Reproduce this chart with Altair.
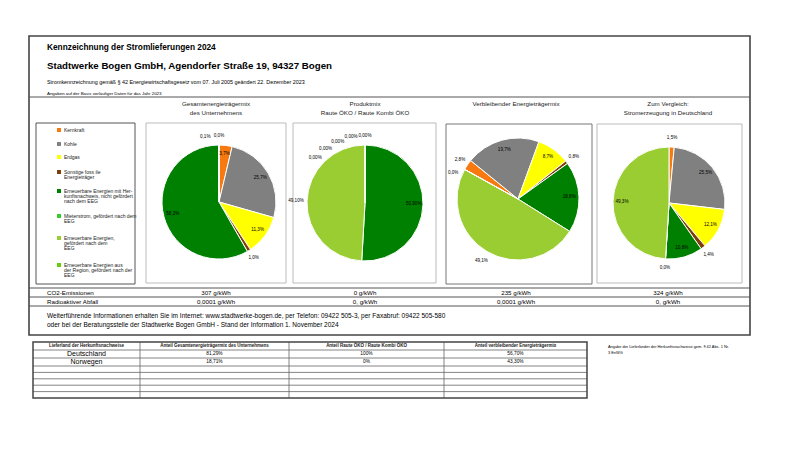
import math
import altair as alt
import pandas as pd

# ---------------- data ----------------
categories = [
    "Kernkraft", "Kohle", "Erdgas", "Sonstige fossile Energieträger",
    "Erneuerbare Energien mit Herkunftsnachweis, nicht gefördert nach dem EEG",
    "Mieterstrom, gefördert nach dem EEG",
    "Erneuerbare Energien, gefördert nach dem EEG",
    "Erneuerbare Energien aus der Region, gefördert nach der EEG",
]
legend_lines = [
    ["Kernkraft"], ["Kohle"], ["Erdgas"],
    ["Sonstige foss ile", "Energieträger"],
    ["Erneuerbare Energien mit Her-", "kunftsnachweis, nicht gefördert", "nach dem EEG"],
    ["Mieterstrom, gefördert nach dem", "EEG"],
    ["Erneuerbare Energien,", "gefördert nach dem", "EEG"],
    ["Erneuerbare Energien aus", "der Region, gefördert nach der", "EEG"],
]
colors = ["#F7790F", "#808080", "#FFFF00", "#7F3F0A", "#008000", "#33CC33", "#9ACD32", "#66CC11"]

pie_titles = [
    ["Gesamtenergieträgermix", "des Unternehmens"],
    ["Produktmix", "Raute ÖKO / Raute Kombi ÖKO"],
    ["Verbleibender Energieträgermix"],
    ["Zum Vergleich:", "Stromerzeugung in Deutschland"],
]
mix_gesamt = [3.7, 25.7, 11.3, 1.0, 58.2, None, 0.1, 0.0]
mix_produkt = [0.0, 0.0, 0.0, 0.0, 50.90, None, 49.10, 0.0]
mix_verbleibend = [2.8, 19.7, 8.7, 0.8, 18.8, None, 49.1, 0.0]
mix_deutschland = [1.5, 25.5, 12.1, 1.4, 10.8, 0.0, 49.3, None]
pie_decimals = [1, 2, 1, 1]

co2_label = "CO2-Emissionen"
co2_values = ["307 g/kWh", "0 g/kWh", "235 g/kWh", "324 g/kWh"]
waste_label = "Radioaktiver Abfall"
waste_values = ["0,0001 g/kWh", "0, g/kWh", "0,0001 g/kWh", "0, g/kWh"]

header_lines = [
    "Kennzeichnung der Stromlieferungen 2024",
    "Stadtwerke Bogen GmbH, Agendorfer Straße 19, 94327 Bogen",
    "Stromkennzeichnung gemäß § 42 Energiewirtschaftsgesetz vom 07. Juli 2005 geändert 22. Dezember 2023",
    "Angaben auf der Basis vorläufiger Daten für das Jahr 2023",
]
footer_lines = [
    "Weiterführende Informationen erhalten Sie im Internet: www.stadtwerke-bogen.de, per Telefon: 09422 505-3, per Faxabruf: 09422 505-580",
    "oder bei der Beratungsstelle der Stadtwerke Bogen GmbH - Stand der Information 1. November 2024",
]

table_headers = [
    "Lieferland der Herkunftsnachweise",
    "Anteil Gesamtenergieträgermix des Unternehmens",
    "Anteil Raute ÖKO / Raute Kombi ÖKO",
    "Anteil verbleibender Energieträgermix",
]
countries = ["Deutschland", "Norwegen"]
anteil_gesamt = ["81,29%", "18,71%"]
anteil_raute = ["100%", "0%"]
anteil_verbleibend = ["56,70%", "43,30%"]
side_note = ["Angabe der Lieferländer der Herkunftsnachweise gem. § 42 Abs. 1 Nr.", "3 EnWG"]

# ---------------- helpers ----------------
FONT = "Liberation Sans"
OFF = 8  # page margin


def text_layer(rows, size, weight="normal", align="left", color="#000000", font=FONT):
    df = pd.DataFrame([{"x": x - OFF, "y": y - OFF, "t": t} for x, y, t in rows])
    return alt.Chart(df).mark_text(
        fontSize=size, fontWeight=weight, align=align, baseline="middle", color=color, font=font
    ).encode(x=alt.X("x:Q", scale=None), y=alt.Y("y:Q", scale=None), text="t:N")


def rule_layer(rows, color, width):
    df = pd.DataFrame([{"x": a - OFF, "y": b - OFF, "x2": c - OFF, "y2": d - OFF} for a, b, c, d in rows])
    return alt.Chart(df).mark_rule(color=color, strokeWidth=width).encode(
        x=alt.X("x:Q", scale=None), y=alt.Y("y:Q", scale=None), x2="x2:Q", y2="y2:Q")


def rect_layer(rows, color, width):
    df = pd.DataFrame([{"x": a - OFF, "y": b - OFF, "x2": c - OFF, "y2": d - OFF} for a, b, c, d in rows])
    return alt.Chart(df).mark_rect(fill="transparent", stroke=color, strokeWidth=width).encode(
        x=alt.X("x:Q", scale=None), y=alt.Y("y:Q", scale=None), x2="x2:Q", y2="y2:Q")


color_scale = alt.Scale(domain=categories, range=colors)
EEG = categories[6]
outside_big = [set(), {EEG}, {EEG}, set()]  # slices whose label sits outside (best fit)


def fmt(v, d):
    return f"{v:.{d}f}".replace(".", ",") + "%"


def pie_layers(values, cx, cy, r, start, dec, out_set):
    total = sum(v for v in values if v is not None)
    rows = []
    cum = 0.0
    for i, (c, v) in enumerate(zip(categories, values)):
        if v is None:
            continue
        inside = v >= 3 and c not in out_set
        rows.append({"cat": c, "v": v, "o": i, "lab": fmt(v, dec), "pos": cum + v / 2,
                     "lr": r * 0.84 if inside else r + (9 if v < 3 else 11), "inside": inside})
        cum += v
    # spread small outside labels so they don't collide
    sep = total * 12 / 360
    outs = [q for q in rows if not q["inside"] and q["v"] < 3]
    for q in outs:
        if q["pos"] > total * 0.75:
            q["pos"] -= total
    outs.sort(key=lambda q: (q["pos"], q["o"]))
    for k in range(len(outs) - 2, -1, -1):
        if outs[k]["pos"] > outs[k + 1]["pos"] - sep:
            outs[k]["pos"] = outs[k + 1]["pos"] - sep
    df = pd.DataFrame(rows)
    rng = [start, start + 2 * math.pi]
    arc = alt.Chart(df).mark_arc(radius=r, stroke="white", strokeWidth=1).encode(
        theta=alt.Theta("v:Q", stack=True, scale=alt.Scale(range=rng)),
        color=alt.Color("cat:N", scale=color_scale, legend=None),
        order=alt.Order("o:Q"),
        x=alt.value(cx - OFF), y=alt.value(cy - OFF),
    )
    lab = alt.Chart(df).mark_text(fontSize=4.6, font=FONT, color="#000000").encode(
        theta=alt.Theta("pos:Q", stack=None, scale=alt.Scale(domain=[0, total], range=rng)),
        radius=alt.Radius("lr:Q", scale=None),
        text="lab:N",
        x=alt.value(cx - OFF), y=alt.value(cy - OFF),
    )
    return [arc, lab]


layers = []

# frames
layers.append(rect_layer([(29, 36, 750, 335)], "#444444", 1.6))
layers.append(rule_layer([(29, 97, 750, 97), (29, 288, 750, 288), (29, 297, 750, 297),
                          (29, 306, 750, 306)], "#555555", 1))
layers.append(rect_layer([(36, 123, 135, 284)], "#555555", 1))
layers.append(rect_layer([(146, 123, 286, 283), (293, 123, 436, 283), (597, 124, 742, 283)], "#BBBBBB", 1))
layers.append(rect_layer([(446, 124, 592, 284)], "#777777", 1))

# header
layers.append(text_layer([(47, 48, header_lines[0])], 8.3, "bold"))
layers.append(text_layer([(47, 66, header_lines[1])], 9.7, "bold"))
layers.append(text_layer([(47, 82, header_lines[2])], 5.4))
layers.append(text_layer([(47, 94, header_lines[3])], 4.4))

# pie titles
centers = [(219, 202, 57, 0.0), (365, 203, 58, 0.0), (518, 199, 61, -61 * math.pi / 180), (669, 203, 56, 0.0)]
title_centers = [216, 365, 516, 668]
title_rows = []
for tcx, lines in zip(title_centers, pie_titles):
    for j, line in enumerate(lines):
        title_rows.append((tcx, 104 + 9 * j, line))
layers.append(text_layer(title_rows, 6.2, align="center", color="#222222"))

# pies
for (cx, cy, r, st), vals, dec, oset in zip(centers, [mix_gesamt, mix_produkt, mix_verbleibend, mix_deutschland],
                                           pie_decimals, outside_big):
    layers += pie_layers(vals, cx, cy, r, st, dec, oset)

# legend
leg_sw = []
leg_txt = []
leg_y = [130, 144, 157, 172, 191, 216, 238, 265]
for cat, lines, y in zip(categories, legend_lines, leg_y):
    leg_sw.append({"x": 59 - OFF, "y": y - OFF, "cat": cat})
    for j, line in enumerate(lines):
        leg_txt.append((64, y + 5.2 * j, line))
layers.append(alt.Chart(pd.DataFrame(leg_sw)).mark_square(size=16, opacity=1).encode(
    x=alt.X("x:Q", scale=None), y=alt.Y("y:Q", scale=None),
    color=alt.Color("cat:N", scale=color_scale, legend=None)))
layers.append(text_layer(leg_txt, 5.0, color="#222222"))

# CO2 / waste rows
layers.append(text_layer([(47, 293, co2_label), (47, 301.5, waste_label)], 6.2))
row_vals = []
for tcx, a, b in zip(title_centers, co2_values, waste_values):
    row_vals.append((tcx, 293, a))
    row_vals.append((tcx, 301.5, b))
layers.append(text_layer(row_vals, 6.2, align="center"))

# footer
layers.append(text_layer([(47, 316, footer_lines[0]), (47, 325, footer_lines[1])], 6.5))

# bottom table
tx = [33, 140, 289, 444, 587]
ty = [342, 350, 358, 366, 372.4, 378.8, 385.2, 391.6, 398]
grid = [(33, y, 587, y) for y in ty[1:-1]] + [(x, 342, x, 398) for x in tx[1:-1]]
layers.append(rule_layer(grid, "#666666", 0.8))
layers.append(rect_layer([(33, 342, 587, 398)], "#444444", 1.5))
colc = [(tx[i] + tx[i + 1]) / 2 for i in range(4)]
hdr = [(colc[i], (ty[0] + ty[1]) / 2, table_headers[i]) for i in range(4)]
layers.append(text_layer(hdr, 4.5, "bold", align="center", color="#222222"))
cells = []
cells2 = []
for r_i, row in enumerate(zip(countries, anteil_gesamt, anteil_raute, anteil_verbleibend)):
    yc = (ty[1 + r_i] + ty[2 + r_i]) / 2
    cells.append((colc[0], yc, row[0]))
    for c_i in range(1, 4):
        cells2.append((colc[c_i], yc, row[c_i]))
layers.append(text_layer(cells, 7, align="center"))
layers.append(text_layer(cells2, 4.8, align="center"))
layers.append(text_layer([(608, 347, side_note[0]), (608, 353, side_note[1])], 3.9))

chart = alt.layer(*layers).resolve_scale(theta="independent").properties(
    width=784, height=434, padding=0, background="white",
    autosize=alt.AutoSizeParams(type="fit", contains="padding"),
).configure_view(stroke=None)

chart.save("out.html", embed_options={"renderer": "svg", "actions": False})
